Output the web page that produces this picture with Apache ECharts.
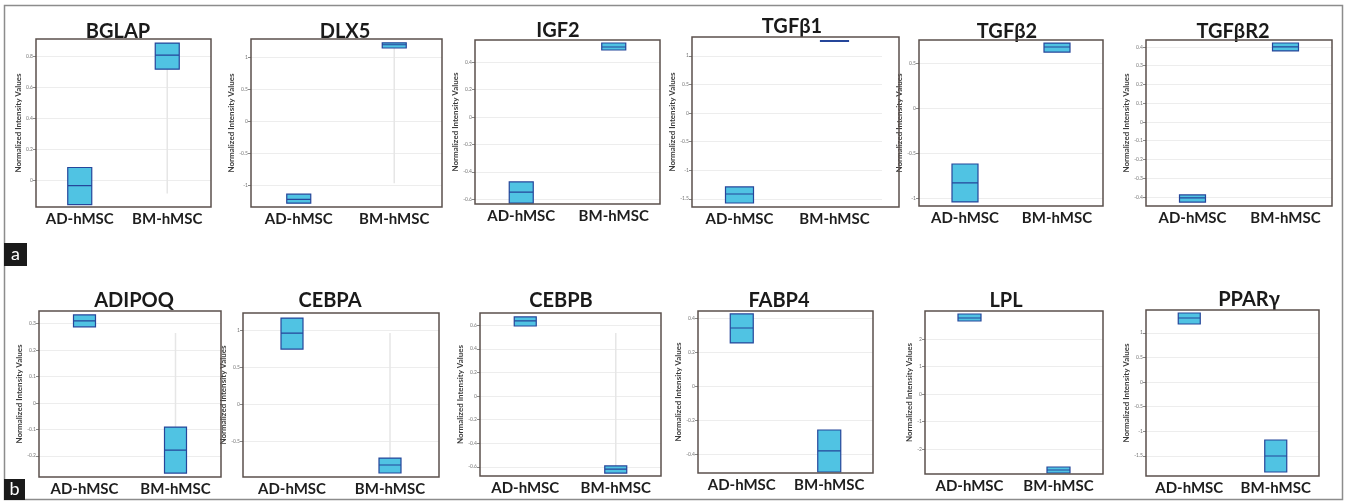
<!DOCTYPE html>
<html><head><meta charset="utf-8">
<script src="https://cdn.jsdelivr.net/npm/echarts@6/dist/echarts.min.js"></script>
<style>html,body{margin:0;padding:0;background:#fff}#c{width:1345px;height:503px}</style>
</head><body><div id="c"></div><script>
// ---------- DATA ----------
const genes = ['BGLAP','DLX5','IGF2','TGFβ1','TGFβ2','TGFβR2','ADIPOQ','CEBPA','CEBPB','FABP4','LPL','PPARγ'];
const categories = ['AD-hMSC','BM-hMSC'];
// [Q1, median, Q3]
const adValues = [
  [-0.155,-0.032,0.084],[-1.28,-1.22,-1.14],[-0.628,-0.548,-0.474],[-1.573,-1.416,-1.293],
  [-1.044,-0.833,-0.622],[-0.427,-0.405,-0.389],[0.288,0.311,0.333],[0.743,0.959,1.162],
  [0.593,0.636,0.670],[0.253,0.341,0.424],[2.654,2.763,2.909],[1.179,1.301,1.403]
];
const bmValues = [
  [0.716,0.806,0.884],[1.14,1.19,1.22],[0.489,0.511,0.540],[1.252,1.259,1.266],
  [0.622,0.678,0.722],[0.379,0.400,0.421],[-0.265,-0.178,-0.091],[-0.932,-0.824,-0.730],
  [-0.653,-0.619,-0.593],[-0.506,-0.382,-0.259],[-2.873,-2.763,-2.654],[-1.830,-1.504,-1.179]
];
// faint whisker extents for BM-hMSC [low, high]
const bmWhisker = [[-0.084,0.716],[-0.97,1.14],null,null,null,null,[-0.091,0.265],[-0.730,0.959],[-0.593,0.534],null,null,null];
const yMin = [-0.17,-1.34,-0.635,-1.643,-1.089,-0.448,-0.280,-0.986,-0.678,-0.512,-2.909,-1.911];
const yMax = [0.91,1.28,0.562,1.328,0.756,0.437,0.348,1.23,0.703,0.441,3.018,1.464];
const yTicks = [
  [0,0.2,0.4,0.6,0.8],[-1,-0.5,0,0.5,1],[-0.6,-0.4,-0.2,0,0.2,0.4],[-1.5,-1,-0.5,0,0.5,1],
  [-1,-0.5,0,0.5],[-0.4,-0.3,-0.2,-0.1,0,0.1,0.2,0.3,0.4],[-0.2,-0.1,0,0.1,0.2,0.3],[-0.5,0,0.5,1],
  [-0.6,-0.4,-0.2,0,0.2,0.4,0.6],[-0.4,-0.2,0,0.2,0.4],[-2,-1,0,1,2],[-1.5,-1,-0.5,0,0.5,1]
];
const yAxisTitle = 'Normalized Intensity Values';

// ---------- LAYOUT ----------
const frames = [[36,39,175,168],[251,39,191,168],[475,40,185,164],[692,37,207,170],[919,40,184,166],[1146,40,186,166],
                [39,311,182,166],[243,313,196,164],[480,313,181,163],[698,311,175,162],[925,311,178,163],[1146,310,173,166]];
const gridTrim = [0,0,0,17,0,0,0,0,0,0,0,0];
const boxW = [24,24,24,28,26,26,22,22,22,23,23,22];
const titleX = [118,345,558,792,1007,1233,134,330,561,779,1006,1249];
const titleY = [22,22,21,17,22,22,291,291,291,291,291,290];

const FONT = 'Lato, "Open Sans", "Liberation Sans", sans-serif';
const grid=[], xAxis=[], yAxis=[], series=[], title=[], graphic=[];

graphic.push({type:'rect', shape:{x:4.5,y:5.5,width:1338,height:494}, style:{fill:'none',stroke:'#8c8c8c',lineWidth:1.5}, z:0});

genes.forEach((g,i)=>{
  const [l,t,w,h] = frames[i];
  grid.push({left:l, top:t, width:w-gridTrim[i], height:h, show:false});
  xAxis.push({type:'category', gridIndex:i, data:categories, boundaryGap:true,
    axisLine:{show:false}, axisTick:{show:false}, splitLine:{show:false},
    axisLabel:{interval:0, hideOverlap:false, fontFamily:FONT, fontSize:15, fontWeight:'bold', color:'#1e1e1e', margin:5}});
  yAxis.push({type:'value', gridIndex:i, min:yMin[i], max:yMax[i],
    name:yAxisTitle, nameLocation:'middle', nameRotate:90, nameGap:8,
    nameTextStyle:{fontFamily:FONT, fontSize:8, fontWeight:'bold', color:'#3a3a3a'},
    axisLine:{show:false},
    axisTick:{show:true, length:3, lineStyle:{color:'#888'}, customValues:yTicks[i]},
    axisLabel:{fontFamily:FONT, fontSize:5, color:'#777', margin:3, customValues:yTicks[i]},
    splitLine:{show:true, lineStyle:{color:'#ededed', width:1}}});
  const box = [adValues[i], bmValues[i]].map(v=>[v[0],v[0],v[1],v[2],v[2]]);
  series.push({type:'boxplot', xAxisIndex:i, yAxisIndex:i, data:box, boxWidth:[boxW[i],boxW[i]],
    itemStyle:{color:'#50c3e3', borderColor:'#25469a', borderWidth:1.2}, z:3, silent:true});
  if (bmWhisker[i]) {
    series.push({type:'line', xAxisIndex:i, yAxisIndex:i, symbol:'none', silent:true, z:1,
      data:[[categories[1], bmWhisker[i][0]],[categories[1], bmWhisker[i][1]]],
      lineStyle:{color:'#e6e6e6', width:1.5}});
  }
  title.push({text:g, left:titleX[i], top:titleY[i], textAlign:'center', padding:0,
    textStyle:{fontFamily:FONT, fontSize:20, fontWeight:'bold', color:'#1a1a1a'}});
  graphic.push({type:'rect', shape:{x:l,y:t,width:w,height:h}, style:{fill:'none',stroke:'#5b504c',lineWidth:1.5}, z:10});
});

graphic.push({type:'rect', shape:{x:4,y:243,width:23,height:23}, style:{fill:'#1a1a1a'}, z:20});
graphic.push({type:'text', x:15.5, y:254.5, style:{text:'a', fill:'#fff', font:'18px '+FONT, align:'center', verticalAlign:'middle'}, z:21});
graphic.push({type:'rect', shape:{x:4,y:479,width:21,height:21}, style:{fill:'#1a1a1a'}, z:20});
graphic.push({type:'text', x:14.5, y:489.5, style:{text:'b', fill:'#fff', font:'18px '+FONT, align:'center', verticalAlign:'middle'}, z:21});

const chart = echarts.init(document.getElementById('c'), null, {renderer:'canvas'});
chart.setOption({animation:false, backgroundColor:'#fff', grid, xAxis, yAxis, series, title, graphic});
</script></body></html>
